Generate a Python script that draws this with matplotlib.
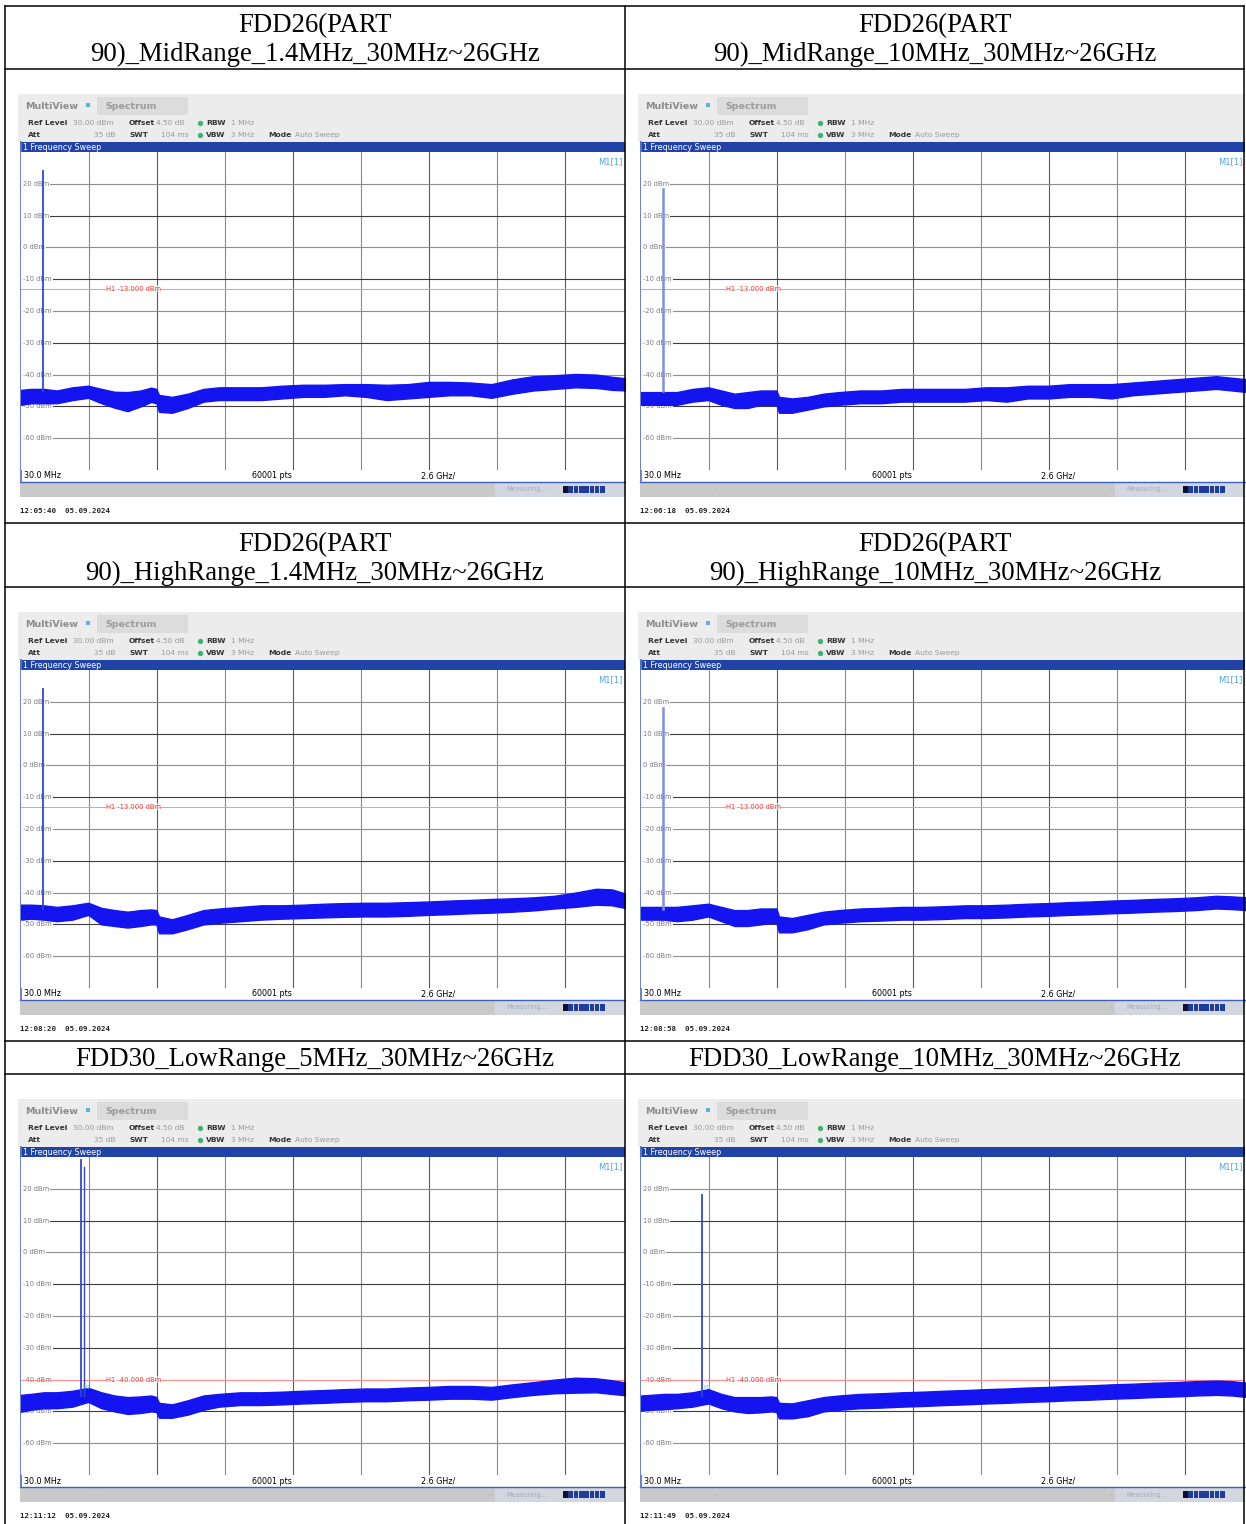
import matplotlib.pyplot as plt
from matplotlib.patches import Rectangle

W, H = 1246, 1524

# ---- data -------------------------------------------------------------------
TITLES = [
    "FDD26(PART\n90)_MidRange_1.4MHz_30MHz~26GHz",
    "FDD26(PART\n90)_MidRange_10MHz_30MHz~26GHz",
    "FDD26(PART\n90)_HighRange_1.4MHz_30MHz~26GHz",
    "FDD26(PART\n90)_HighRange_10MHz_30MHz~26GHz",
    "FDD30_LowRange_5MHz_30MHz~26GHz",
    "FDD30_LowRange_10MHz_30MHz~26GHz",
]
TIMES = ["12:05:40  05.09.2024", "12:06:18  05.09.2024", "12:08:20  05.09.2024",
         "12:08:58  05.09.2024", "12:11:12  05.09.2024", "12:11:49  05.09.2024"]
H1_DBM = [-13, -13, -13, -13, -40, -40]
SPIKE_GHZ = [0.87, 0.87, 0.87, 0.87, 2.32, 2.35]
SPIKE_DBM = [24.0, 18.4, 24.0, 18.0, 29.0, 18.0]
Y_LEVELS = [20, 10, 0, -10, -20, -30, -40, -50, -60]

# noise floor envelope (upper / lower edge of the trace band), dBm
FREQ_GHZ = [0.03, 0.4, 0.9, 1.4, 2.0, 2.6, 3.1, 3.6, 4.1, 4.6, 5.0, 5.2, 5.3, 5.8, 6.4,
            7.0, 7.6, 8.4, 9.2, 10.0, 10.8, 11.6, 12.4, 13.2, 14.0, 14.8, 15.6, 16.4,
            17.2, 18.0, 18.8, 19.6, 20.4, 21.2, 22.0, 22.6, 23.2]
P1_TOP = [-44.8, -44.5, -44.5, -45.0, -44.0, -43.5, -44.5, -45.4, -45.5, -45.0, -44.1, -44.5,
          -46.4, -47.0, -46.0, -44.5, -44.0, -44.0, -44.0, -43.5, -43.2, -43.2, -43.0, -43.0,
          -43.2, -43.0, -42.3, -42.3, -42.5, -43.0, -41.5, -40.5, -40.2, -39.8, -40.0, -40.7, -41.2]
P1_BOT = [-49.5, -49.0, -49.0, -49.0, -48.0, -47.3, -49.0, -50.4, -51.5, -50.0, -48.6, -49.0,
          -51.7, -52.0, -50.5, -48.5, -48.0, -48.0, -48.0, -47.5, -47.0, -47.0, -46.5, -47.0,
          -48.0, -47.5, -47.0, -46.5, -46.5, -47.3, -46.0, -45.0, -44.5, -44.0, -44.2, -44.8, -45.0]
P2_TOP = [-45.5, -45.5, -45.5, -45.5, -44.5, -44.0, -45.0, -46.0, -45.5, -45.0, -45.0, -45.0,
          -47.0, -47.5, -47.0, -46.0, -45.5, -45.0, -45.0, -44.5, -44.5, -44.5, -44.5, -44.0,
          -44.0, -43.5, -43.5, -43.0, -43.0, -43.0, -42.5, -42.0, -41.5, -41.0, -40.5, -41.0, -41.5]
P2_BOT = [-49.5, -49.5, -49.5, -49.5, -48.5, -48.0, -49.5, -50.5, -50.5, -49.5, -49.5, -49.5,
          -52.0, -52.0, -51.0, -50.0, -49.5, -49.0, -49.0, -48.5, -48.5, -48.5, -48.5, -48.0,
          -48.5, -47.5, -47.5, -47.0, -47.0, -47.5, -46.5, -46.0, -45.5, -45.0, -44.5, -45.0, -45.5]
P3_TOP = [-43.8, -43.8, -44.0, -44.5, -44.0, -43.2, -44.8, -45.5, -46.0, -45.5, -45.3, -45.5,
          -47.5, -48.4, -47.0, -45.5, -45.0, -44.5, -44.0, -44.0, -43.8, -43.5, -43.3, -43.2,
          -43.2, -43.0, -42.8, -42.5, -42.3, -42.0, -41.8, -41.5, -41.0, -40.0, -38.8, -39.0, -40.5]
P3_BOT = [-48.5, -48.2, -48.5, -49.0, -48.5, -47.0, -50.0, -50.5, -51.0, -50.5, -50.0, -50.0,
          -52.8, -52.8, -51.5, -50.0, -49.5, -49.0, -48.5, -48.2, -48.0, -47.8, -47.6, -47.5,
          -47.5, -47.3, -47.0, -46.8, -46.5, -46.3, -46.0, -45.6, -45.0, -44.5, -43.8, -44.0, -45.0]
P4_TOP = [-44.5, -44.5, -44.5, -44.5, -44.0, -43.5, -44.5, -45.5, -45.5, -45.0, -45.0, -45.0,
          -47.5, -48.0, -47.0, -46.0, -45.5, -45.0, -44.8, -44.5, -44.5, -44.3, -44.0, -44.0,
          -43.8, -43.5, -43.3, -43.0, -42.8, -42.5, -42.3, -42.0, -41.8, -41.5, -41.0, -41.2, -41.5]
P4_BOT = [-48.5, -48.5, -48.5, -49.0, -48.5, -47.5, -49.0, -50.5, -50.5, -50.0, -49.5, -49.5,
          -52.5, -52.5, -51.5, -50.0, -49.5, -49.0, -48.8, -48.5, -48.5, -48.3, -48.0, -48.0,
          -47.8, -47.5, -47.3, -47.0, -46.8, -46.5, -46.3, -46.0, -45.8, -45.5, -45.0, -45.2, -45.5]
P5_TOP = [-44.8, -44.5, -44.0, -44.0, -43.5, -42.6, -44.0, -45.0, -45.5, -45.3, -45.0, -45.5,
          -47.3, -47.8, -46.5, -45.0, -44.5, -44.0, -44.0, -43.8, -43.5, -43.3, -43.0, -42.8,
          -42.8, -42.5, -42.3, -42.0, -42.0, -42.3, -41.5, -40.8, -40.0, -39.4, -39.6, -40.2, -41.0]
P5_BOT = [-50.1, -49.5, -49.0, -49.0, -48.5, -47.0, -49.0, -50.0, -50.8, -50.5, -50.0, -50.2,
          -52.0, -52.0, -51.0, -49.5, -48.5, -48.0, -48.0, -47.8, -47.5, -47.3, -47.0, -46.8,
          -46.8, -46.5, -46.3, -46.0, -46.0, -46.3, -45.5, -44.8, -44.3, -44.1, -44.0, -44.5, -45.0]
P6_TOP = [-45.0, -44.8, -44.5, -44.5, -44.0, -43.0, -44.5, -45.5, -45.5, -45.5, -45.3, -45.5,
          -47.3, -47.5, -46.5, -45.5, -45.0, -44.5, -44.3, -44.0, -43.8, -43.5, -43.3, -43.0,
          -42.8, -42.5, -42.3, -42.0, -41.8, -41.5, -41.3, -41.0, -40.8, -40.5, -40.3, -40.5, -41.0]
P6_BOT = [-49.8, -49.5, -49.3, -49.0, -48.5, -47.5, -49.0, -50.0, -50.5, -50.3, -50.0, -50.2,
          -52.2, -52.2, -51.5, -50.0, -49.5, -49.0, -48.8, -48.5, -48.3, -48.0, -47.8, -47.5,
          -47.3, -47.0, -46.8, -46.5, -46.3, -46.0, -45.8, -45.5, -45.3, -45.0, -44.8, -45.0, -45.5]
TRACES = [(P1_TOP, P1_BOT), (P2_TOP, P2_BOT), (P3_TOP, P3_BOT),
          (P4_TOP, P4_BOT), (P5_TOP, P5_BOT), (P6_TOP, P6_BOT)]

F_START = 0.03          # GHz
F_DIV = 2.597           # GHz per division
DIV_PX = 68.0           # one division on the screenshot, in pixels
PLOT_W, PLOT_H = 604, 318
F_STOP = F_START + PLOT_W / DIV_PX * F_DIV

fig = plt.figure(figsize=(W / 100, H / 100), dpi=100)
bg = fig.add_axes([0, 0, 1, 1])
bg.set_xlim(0, W)
bg.set_ylim(H, 0)
bg.axis("off")


def px_axes(x, y, w, h):
    return fig.add_axes([x / W, 1 - (y + h) / H, w / W, h / H])


def draw_panel(i, x0, dy):
    # header of the analyser screen
    bg.add_patch(Rectangle((x0 - 2, 94 + dy), 607, 48, color="#ececec", lw=0))
    bg.add_patch(Rectangle((x0 + 77, 97 + dy), 91, 18, color="#dcdcdc", lw=0))
    bg.add_patch(Rectangle((x0 + 66, 102.5 + dy), 4, 4, color="#5ab4e6", lw=0))
    bg.text(x0 + 5, 106.5 + dy, "MultiView", fontsize=6.8, weight="bold", color="#8c8c8c", va="center")
    bg.text(x0 + 85, 106.5 + dy, "Spectrum", fontsize=6.8, weight="bold", color="#9c9c9c", va="center")
    row1 = [(8, "Ref Level", True), (53, "30.00 dBm", False), (109, "Offset", True),
            (136, "4.50 dB", False), (186, "RBW", True), (211, "1 MHz", False)]
    row2 = [(8, "Att", True), (74, "35 dB", False), (109, "SWT", True), (141, "104 ms", False),
            (186, "VBW", True), (211, "3 MHz", False), (248, "Mode", True), (275, "Auto Sweep", False)]
    for yy, items in ((123, row1), (135, row2)):
        for xx, s, b in items:
            bg.text(x0 + xx, yy + dy, s, fontsize=5.4, va="center",
                    weight="bold" if b else "normal", color="#333333" if b else "#9a9a9a")
        bg.plot([x0 + 180], [yy + dy], "o", ms=2.8, color="#3cb371")

    # blue title bar
    bg.add_patch(Rectangle((x0, 142 + dy), 605, 10, color="#2143a8", lw=0))
    bg.text(x0 + 3, 147.5 + dy, "1 Frequency Sweep", fontsize=5.8, color="white", va="center")

    # bottom strip + status bar
    bg.add_patch(Rectangle((x0, 470 + dy), 605, 11, color="white", lw=0))
    bg.plot([x0, x0 + 605], [481.5 + dy, 481.5 + dy], color="#3f5fb8", lw=1.0)
    bg.plot([x0 + 0.5, x0 + 0.5], [142 + dy, 481.5 + dy], color="#5a78c8", lw=1.3)
    bg.text(x0 + 4, 476 + dy, "30.0 MHz", fontsize=5.8, va="center")
    bg.text(x0 + 232, 476 + dy, "60001 pts", fontsize=5.8, va="center")
    bg.text(x0 + 401, 476 + dy, "2.6 GHz/", fontsize=5.8, va="center")
    bg.add_patch(Rectangle((x0, 482 + dy), 475, 15, color="#c9c9c9", lw=0))
    bg.add_patch(Rectangle((x0 + 475, 482 + dy), 130, 15, color="#d2d6de", lw=0))
    bg.text(x0 + 75, 489.5 + dy, "-", fontsize=4, color="#a8a8a8", va="center")
    bg.text(x0 + 470, 489.5 + dy, "-", fontsize=4, color="#a8a8a8", va="center")
    bg.text(x0 + 486, 489.5 + dy, "Measuring...", fontsize=4.8, color="#a4acbc", va="center")
    for k in range(8):
        bg.add_patch(Rectangle((x0 + 543 + k * 5.3, 486 + dy), 4.6, 7,
                               color="#101030" if k == 0 else "#1f3c9c", lw=0))
    bg.text(x0, 511 + dy, TIMES[i], fontsize=5.4, family="DejaVu Sans Mono",
            weight="bold", va="center", color="#222222")

    # trace window
    ax = px_axes(x0 + 1, 152 + dy, PLOT_W, PLOT_H)
    ax.set_xlim(F_START, F_STOP)
    ax.set_ylim(-70, 30)
    ax.set_xticks([])
    ax.set_yticks([])
    for s in ax.spines.values():
        s.set_visible(False)
    for k in range(1, 9):
        ax.axvline(F_START + k * F_DIV, color="#8a8a8a" if k % 2 else "#5a5a5a", lw=0.8, zorder=1)
    for lev in Y_LEVELS:
        ax.axhline(lev, color="#3c3c3c" if lev % 20 else "#8e8e8e", lw=0.8, zorder=1)
        ax.text(F_START + 0.06, lev, f"{lev} dBm", fontsize=4.9, color="#7a7a7a", va="center",
                zorder=2, bbox=dict(facecolor="white", edgecolor="none", pad=1.0))
    h1 = H1_DBM[i]
    ax.axhline(h1, color="#ff8f8f", lw=0.7, zorder=2)
    ax.text(3.28, h1, f"H1 {h1:.3f} dBm", fontsize=4.9, color="#e03c3c", va="center",
            zorder=3, bbox=dict(facecolor="white", edgecolor="none", pad=0.2, alpha=0.6))
    ax.text(0.996, 0.985, "M1[1]", transform=ax.transAxes, ha="right", va="top",
            fontsize=6.0, color="#4aa3df")

    top, bot = TRACES[i]
    ax.fill_between(FREQ_GHZ, bot, top, color="#1414f0", lw=1.0, zorder=4)
    light = i in (1, 3)
    ax.plot([SPIKE_GHZ[i], SPIKE_GHZ[i]], [-45, SPIKE_DBM[i]],
            color="#7f8fe6" if light else "#3048d0", lw=1.8 if light else 1.3, zorder=5)
    if i == 4:
        ax.plot([2.44, 2.44], [-45, 27], color="#3048d0", lw=1.0, zorder=5)
    if i >= 4:
        ax.text(SPIKE_GHZ[i] + 0.05, -43, "M1", fontsize=3.8, color="#6cc8ea", zorder=6)
    return ax


for i in range(6):
    col, row = i % 2, i // 2
    draw_panel(i, [20, 640][col], [0, 518, 1005][row])

# table overlay: borders and headings
ov = fig.add_axes([0, 0, 1, 1])
ov.set_xlim(0, W)
ov.set_ylim(H, 0)
ov.axis("off")
ov.patch.set_alpha(0)
for xx in (5, 625, 1244):
    ov.plot([xx, xx], [5.5, 1524], color="black", lw=1.1)
for yy in (5.5, 69, 522.5, 587, 1041, 1074):
    ov.plot([5, 1244], [yy, yy], color="black", lw=1.1)

TITLE_Y = [40, 40, 559, 559, 1059, 1059]
for i, t in enumerate(TITLES):
    ov.text([315, 935][i % 2], TITLE_Y[i], t, ha="center", va="center",
            fontsize=19.3, family="Liberation Serif", linespacing=1.2)

fig.savefig("out.png", dpi=100)
